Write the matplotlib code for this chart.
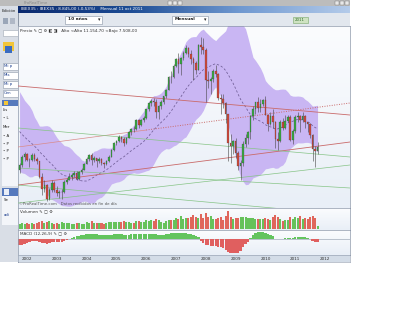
import matplotlib
matplotlib.use("Agg")
import matplotlib.pyplot as plt
from matplotlib.patches import Rectangle
from matplotlib.colors import LinearSegmentedColormap
import numpy as np
import pandas as pd

W, H = 420, 315

# IBEX 35, monthly candles from Oct 2001 to Oct 2011
first_open = 7300
close = [7650, 8150, 8397,
         8000, 7980, 8310, 8050, 7900, 6900, 6100, 6350, 5400, 6000, 6500, 6037,
         5800, 5900, 5900, 6550, 6700, 6860, 7000, 7150, 6750, 7180, 7350, 7737,
         8030, 8320, 7990, 8130, 7900, 8040, 7790, 7700, 7900, 8180, 8630, 9081,
         9220, 9500, 9380, 9100, 9450, 9800, 10020, 10000, 10580, 10280, 10620, 10734,
         11300, 11700, 11850, 11750, 11150, 11550, 11800, 12150, 12560, 13450, 13400, 14147,
         14600, 14300, 14650, 15000, 15300, 14900, 14600, 14350, 13900, 15500, 15400, 15182,
         13230, 13170, 13270, 13800, 13600, 12050, 11950, 11700, 10990, 9120, 8900, 9196,
         8450, 7620, 7815, 9040, 9420, 9790, 10850, 11300, 11750, 11400, 11650, 11940,
         10950, 10350, 10870, 10490, 9360, 9260, 10500, 10090, 10510, 10800, 9270, 9859,
         10800, 10850, 10580, 10880, 10480, 10360, 9630, 8720, 8546, 8845]
high = [7800, 8300, 8500,
        8450, 8100, 8450, 8450, 8200, 7950, 7100, 6650, 6400, 6150, 6700, 6600,
        6300, 6000, 6100, 6650, 6800, 7150, 7100, 7250, 7250, 7250, 7450, 7780,
        8150, 8400, 8450, 8250, 8100, 8150, 8100, 7850, 8000, 8300, 8700, 9150,
        9300, 9600, 9550, 9500, 9500, 9900, 10100, 10200, 10650, 10700, 10700, 10850,
        11350, 11800, 11950, 12050, 12000, 11600, 11900, 12200, 12650, 13500, 13800, 14250,
        14650, 15000, 14750, 15100, 15500, 15400, 15200, 14700, 14450, 15550, 16040, 15950,
        15300, 13800, 13400, 13950, 14200, 13700, 12300, 12300, 11800, 11000, 9700, 9300,
        9450, 8600, 8000, 9200, 9700, 9900, 10900, 11500, 11800, 12100, 12000, 12000,
        12200, 11000, 11100, 11300, 10550, 9800, 10600, 10750, 10900, 10950, 10950, 10000,
        10900, 11155, 10950, 11100, 10900, 10500, 10400, 9700, 8900, 9150]
low = [7100, 7500, 7950,
       7900, 7550, 7950, 7900, 7700, 6800, 5700, 5900, 5300, 5350, 5900, 5900,
       5650, 5500, 5450, 5850, 6400, 6650, 6650, 6850, 6700, 6700, 7050, 7300,
       7700, 7950, 7650, 7850, 7550, 7800, 7650, 7450, 7650, 7850, 8150, 8600,
       8950, 9150, 9150, 8900, 9050, 9400, 9650, 9800, 9950, 10050, 10200, 10500,
       10700, 11200, 11550, 11500, 10750, 10650, 11300, 11650, 12050, 12550, 13000, 13350,
       14050, 13700, 13550, 14500, 14900, 14700, 14300, 13200, 13600, 13900, 14900, 14950,
       11800, 12700, 12300, 13100, 13400, 11900, 11000, 11400, 10400, 7900, 7800, 8400,
       8100, 7350, 6700, 7600, 8850, 9050, 9350, 10600, 11000, 11150, 11100, 11550,
       10900, 9850, 10300, 10100, 8800, 8650, 9150, 9950, 10000, 10500, 9200, 9050,
       9750, 10500, 9800, 10500, 10050, 9800, 9450, 7950, 7508, 8400]
volume = [5, 6, 5,
          6, 5, 6, 5, 6, 7, 8, 6, 7, 8, 6, 5,
          6, 5, 7, 6, 6, 6, 5, 5, 6, 6, 5, 5,
          7, 6, 8, 6, 6, 6, 6, 5, 6, 7, 7, 7,
          7, 7, 7, 8, 7, 7, 6, 6, 8, 8, 7, 7,
          9, 8, 9, 8, 10, 9, 7, 6, 8, 9, 9, 9,
          11, 10, 13, 10, 11, 11, 12, 14, 12, 11, 15, 11,
          16, 12, 13, 10, 10, 11, 12, 9, 13, 18, 12, 10,
          11, 11, 12, 12, 12, 11, 11, 11, 10, 10, 10, 10,
          11, 10, 9, 12, 14, 12, 10, 8, 9, 9, 12, 10,
          12, 11, 13, 10, 11, 10, 12, 13, 11, 3]
# MACD (12,26,9), x100 points
macd = [-6, -5.5, -4.5,
        -4, -3, -2, -2, -2, -3, -4, -4, -5, -4, -3, -3,
        -3, -3, -2.5, -1.5, -0.5, 0.5, 1.5, 2.5, 3, 3.5, 4, 4.5,
        5, 5.5, 5.5, 5, 5, 4.5, 4.5, 4, 4, 4, 4.5, 5,
        5, 5, 5, 4.5, 4.5, 4.5, 5, 5, 5, 5, 5, 5,
        5.5, 5.5, 5.5, 5.5, 5, 4.5, 4.5, 4.5, 5, 5.5, 6, 6,
        6, 6, 6, 6, 6, 5.5, 5, 4, 3.5, 2.5, -2, -4,
        -6, -6, -6.5, -6.5, -7, -7.5, -8, -9, -11, -12.5, -13.5, -14,
        -14, -13.5, -12, -8, -5, -2.5, 1.5, 4, 6, 7, 7, 7,
        6.5, 5.5, 4.5, 3, 0.5, -0.3, -0.3, 0.3, 1, 1.5, 1.5, 1.5,
        2, 2.5, 2.5, 2.5, 2, 1, 0.3, -1.5, -3, -3]
# closes Jan 2000 .. Sep 2001, only used to warm up the Bollinger bands
warmup_close = [11100, 12150, 11935, 11700, 11100, 10900, 11100, 11450, 10650, 10900, 9950, 9110,
                9700, 9100, 9300, 9800, 9500, 8950, 8550, 8350, 7300]
years = list(range(2002, 2013))

# hand drawn trend lines: (year, price) -> (year, price)
red_lines = [((2001.70, 12830), (2012.84, 10930)),
             ((2001.70, 6346), (2012.84, 9162))]
red_dotted = ((2001.70, 8835), (2012.84, 11716))
green_lines = [((2001.70, 10079), (2012.84, 8180)),
               ((2001.70, 7460), (2012.84, 6150)),
               ((2001.70, 5167), (2012.84, 7656)),
               ((2001.70, 6346), (2012.84, 4382))]

# --- Bollinger (20, 2) ---
full = pd.Series(warmup_close + close, dtype=float)
n = len(close)
ma = full.rolling(20).mean().iloc[-n:].values
sd = full.rolling(20).std(ddof=0).iloc[-n:].values

c = np.array(close, float)
o = np.array([first_open] + close[:-1], float)
hi = np.array(high, float)
lo = np.array(low, float)
mv = np.array(macd, float)
t = 2001.75 + np.arange(n) / 12.0
up = c >= o

X0, X1 = 2001.698, 2012.839


def box(x0, y0, x1, y1):
    return [x0 / W, 1 - y1 / H, (x1 - x0) / W, (y1 - y0) / H]


fig = plt.figure(figsize=(4.2, 3.15), dpi=100)
fig.patch.set_facecolor("white")

ax0 = fig.add_axes([0, 0, 1, 1])
ax0.set_xlim(0, W)
ax0.set_ylim(H, 0)
ax0.axis("off")


def rect(x0, y0, x1, y1, fc, ec="none", lw=0.4, z=1):
    ax0.add_patch(Rectangle((x0, y0), x1 - x0, y1 - y0, facecolor=fc, edgecolor=ec, linewidth=lw, zorder=z))


def txt(x, y, s, size=3.2, color="#222222", **kw):
    ax0.text(x, y, s, fontsize=size, color=color, va="center", zorder=5, **kw)


# application frame
rect(0, 0, 350, 262, "#d9dee6")
rect(0, 0, 350, 6, "#bcbcbc")
txt(24, 3, "ProRealTime", size=2.8, color="#8a8a8a")
for bx in (168, 173, 178, 335, 340, 345):
    rect(bx, 1, bx + 4, 5, "#e8e8e8", ec="#707070", lw=0.3, z=2)

title_cmap = LinearSegmentedColormap.from_list("t", ["#0b2a6f", "#1d4c94", "#6f98d0", "#b4cbea"])
ax0.imshow(np.linspace(0, 1, 256)[None, :], extent=[18, 350, 13, 6], cmap=title_cmap, aspect="auto", zorder=1)
txt(21, 9.5, "IBEX35 : IBEX35 : 8.845,00 (-0,53%)    Mensual 11 oct 2011", size=3.0, color="white")

rect(18, 13, 350, 26, "#e2e7ee")
rect(65, 15.5, 102, 23.5, "white", ec="#8792a4", z=2)
txt(68, 19.5, "10 años", size=3.2, weight="bold")
txt(97.5, 19.5, "▾", size=3.5)
rect(172, 15.5, 208, 23.5, "white", ec="#8792a4", z=2)
txt(175, 19.5, "Mensual", size=3.2, weight="bold")
txt(203.5, 19.5, "▾", size=3.5)
rect(293, 17, 308, 23, "#cfe3c2", ec="#7aa86a", z=2)
txt(295, 20, "2011", size=2.8, color="#2f6a2a")

# left side panel
txt(2, 11, "Edición", size=2.8)
rect(3, 18, 8, 24, "#9aa6b8")
rect(10, 18, 15, 24, "#b0b8c6")
rect(3, 30, 18, 36, "white", ec="#a0a8b4")
rect(3, 42, 14, 51, "#f2c53a")
rect(5, 46, 12, 53, "#3b6cc0")
for i, s in enumerate(["Mi p", "Mis", "Mi p", "Cen"]):
    y = 63 + i * 9
    rect(3, y, 18, y + 6.5, "white", ec="#8d98aa", z=2)
    txt(4, y + 3.3, s, size=2.8, color="#1a3c8c")
rect(2, 100, 18, 106, "#5679bd")
rect(4, 101, 8, 105, "#f2c53a", z=2)
rect(2, 106, 18, 186, "#f3f5f9")
for y, s in [(110, "Lis"), (118, "• L"), (127, "Mer"), (136, "• A"), (144, "• P"), (151, "• P"), (159, "• P")]:
    txt(3, y, s, size=2.8)
rect(2, 188, 18, 196, "#5679bd")
rect(4, 189, 9, 195, "#e9eef7", z=2)
rect(2, 196, 18, 225, "#f3f5f9")
txt(4, 200, "Se", size=2.8)
txt(4, 215, "adi", size=2.8, color="#1a3c8c")
ax0.plot([18, 18], [13, 262], color="#7d8898", lw=0.6, zorder=3)

bg_cmap = LinearSegmentedColormap.from_list("bg", ["#fbfcfe", "#e9eff7"])

# --- price panel ---
ax = fig.add_axes(box(18, 26, 350, 208))
ax.imshow(np.linspace(0, 1, 64)[:, None], extent=[0, 1, 0, 1], transform=ax.transAxes,
          cmap=bg_cmap, aspect="auto", zorder=0)
ax.fill_between(t, ma + 2 * sd, ma - 2 * sd, color="#c9b6f3", lw=0, zorder=1)
ax.plot(t, ma, color="#6f5d96", lw=0.55, dashes=(3, 2.5), zorder=2)

for (xa, pa), (xb, pb) in red_lines:
    ax.plot([xa, xb], [pa, pb], color="#c96a6a", lw=0.6, zorder=3)
(xa, pa), (xb, pb) = red_dotted
xm = 2006.0
pm = np.interp(xm, [xa, xb], [pa, pb])
ax.plot([xa, xm], [pa, pm], color="#d98a8a", lw=0.5, zorder=3)
ax.plot([xm, xb], [pm, pb], color="#c96a6a", lw=0.7, ls=(0, (1, 1.5)), zorder=3)
for (xa, pa), (xb, pb) in green_lines:
    ax.plot([xa, xb], [pa, pb], color="#86c486", lw=0.5, zorder=3)

ax.vlines(t, lo, hi, color="#444444", lw=0.4, zorder=4)
body_col = np.where(up, "#3aa843", "#cf4a3c")
ax.bar(t, np.maximum(np.abs(c - o), 20), bottom=np.minimum(c, o), width=0.055,
       color=body_col, edgecolor="#303030", linewidth=0.15, zorder=5)

ax.set_xlim(X0, X1)
ax.set_ylim(4840, 16759)
ax.set_xticks([])
ax.set_yticks([])
for s in ax.spines.values():
    s.set_color("#8d98aa")
    s.set_linewidth(0.5)
ax.text(0.006, 0.985, "Precio ✎ ▢ ⚙ ◧ ◨   Alto <Alto 11.154,70 <Bajo 7.508,00", transform=ax.transAxes,
        fontsize=3.0, color="#333333", va="top", zorder=6)
ax.text(0.004, 0.012, "©ProRealTime.com   Datos recibidos en fin de día", transform=ax.transAxes,
        fontsize=2.8, color="#555555", va="bottom", zorder=6)

# --- volume panel ---
axv = fig.add_axes(box(18, 208, 350, 230))
axv.imshow(np.linspace(0, 1, 32)[:, None], extent=[0, 1, 0, 1], transform=axv.transAxes,
           cmap=bg_cmap, aspect="auto", zorder=0)
vol_col = np.where(up, "#66c25a", "#e0665c")
axv.bar(t, volume, width=0.068, color=vol_col, linewidth=0, zorder=2)
axv.set_xlim(X0, X1)
axv.set_ylim(-0.8, 21)
axv.set_xticks([])
axv.set_yticks([])
axv.text(0.006, 0.93, "Volumen ✎ ▢ ⚙", transform=axv.transAxes, fontsize=3.0, color="#333333",
         va="top", zorder=6)

# --- MACD panel ---
axm = fig.add_axes(box(18, 230, 350, 255))
axm.imshow(np.linspace(0, 1, 32)[:, None], extent=[0, 1, 0, 1], transform=axm.transAxes,
           cmap=bg_cmap, aspect="auto", zorder=0)
macd_col = np.where(mv >= 0, "#63c45e", "#e05f5f")
axm.bar(t, mv, width=0.078, color=macd_col, linewidth=0, zorder=2)
axm.axhline(0, color="#8d98aa", lw=0.4, zorder=1)
axm.set_ylim(-16, 9)
axm.set_xlim(X0, X1)
axm.set_xticks([])
axm.set_yticks([])
axm.text(0.006, 0.96, "MACD (12,26,9) ✎ ▢ ⚙", transform=axm.transAxes, fontsize=3.0, color="#333333",
         va="top", zorder=6)

for a in (axv, axm):
    for s in a.spines.values():
        s.set_color("#8d98aa")
        s.set_linewidth(0.5)

# --- date strip ---
axx = fig.add_axes(box(18, 255, 350, 262))
axx.set_facecolor("#d3dce7")
axx.set_xlim(X0, X1)
axx.set_ylim(0, 1)
axx.set_xticks([])
axx.set_yticks([])
for s in axx.spines.values():
    s.set_color("#8d98aa")
    s.set_linewidth(0.4)
for yr in years:
    axx.text(yr, 0.5, str(yr), fontsize=3.0, color="#333333", ha="center", va="center")

fig.savefig("out.png", dpi=100)
